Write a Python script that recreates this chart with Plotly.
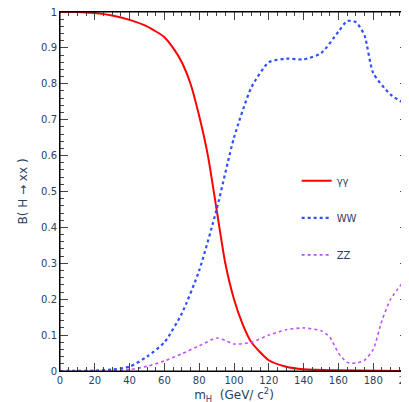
import plotly.graph_objects as go

x_gg = [0, 10, 20, 30, 40, 50, 60, 65, 70, 75, 80, 85, 90, 95, 100, 105, 110, 120, 130, 140, 160, 200]
y_gg = [1.0, 1.0, 0.997, 0.99, 0.978, 0.96, 0.93, 0.9, 0.86, 0.8, 0.71, 0.6, 0.45, 0.3, 0.2, 0.13, 0.08, 0.03, 0.012, 0.005, 0.002, 0.0]
x_ww = [0, 20, 30, 40, 50, 60, 70, 80, 90, 100, 110, 120, 130, 140, 150, 160, 165, 170, 175, 180, 190, 200]
y_ww = [0, 0.001, 0.004, 0.012, 0.04, 0.08, 0.16, 0.28, 0.45, 0.65, 0.79, 0.86, 0.87, 0.868, 0.885, 0.945, 0.975, 0.972, 0.935, 0.83, 0.77, 0.74]
x_zz = [0, 30, 40, 50, 60, 70, 80, 90, 95, 100, 110, 120, 130, 140, 150, 155, 160, 165, 170, 175, 180, 185, 190, 200]
y_zz = [0, 0.0005, 0.004, 0.013, 0.028, 0.048, 0.07, 0.092, 0.085, 0.075, 0.08, 0.1, 0.115, 0.12, 0.112, 0.095, 0.05, 0.024, 0.022, 0.03, 0.06, 0.14, 0.2, 0.265]

fig = go.Figure()
fig.add_trace(go.Scatter(x=x_gg, y=y_gg, mode="lines", name="γγ", line=dict(color="#ff0000", width=2, shape="spline", smoothing=0.6), legendgroup="a"))
fig.add_trace(go.Scatter(x=x_ww, y=y_ww, mode="lines", name="WW", line=dict(color="#3050ff", width=2.2, dash="dot", shape="spline", smoothing=0.6), legendgroup="b"))
fig.add_trace(go.Scatter(x=x_zz, y=y_zz, mode="lines", name="ZZ", line=dict(color="#c050ff", width=1.6, dash="dot", shape="spline", smoothing=0.6), legendgroup="c"))

ax = dict(showline=True, linecolor="black", linewidth=1, mirror="allticks", ticks="inside",
          ticklen=8, showgrid=False, zeroline=False, ticklabeloverflow="allow",
          minor=dict(ticks="inside", ticklen=4), tickfont=dict(size=10, family="DejaVu Sans"))
fig.update_xaxes(range=[0, 200], dtick=20, minor_dtick=5, **ax,
                 title=dict(text="m<sub>H</sub>  (GeV/ c<sup>2</sup>)", font=dict(size=12, family="DejaVu Sans"), standoff=2))
fig.update_yaxes(range=[0, 1], dtick=0.1, minor_dtick=0.02, **ax,
                 title=dict(text="B( H → xx )", font=dict(size=12, family="DejaVu Sans"), standoff=10))
fig.add_shape(type="rect", xref="paper", yref="paper", x0=0, y0=0, x1=1, y1=1, line=dict(color="black", width=1))
fig.update_layout(width=409, height=402, margin=dict(l=52, r=9, t=4, b=39, autoexpand=False),
                  plot_bgcolor="white", paper_bgcolor="white", showlegend=True,
                  legend=dict(x=0.68, y=0.57, xanchor="left", yanchor="top", tracegroupgap=18,
                              font=dict(size=10, family="DejaVu Sans"), bgcolor="rgba(0,0,0,0)"))
fig.write_html("out.html")
